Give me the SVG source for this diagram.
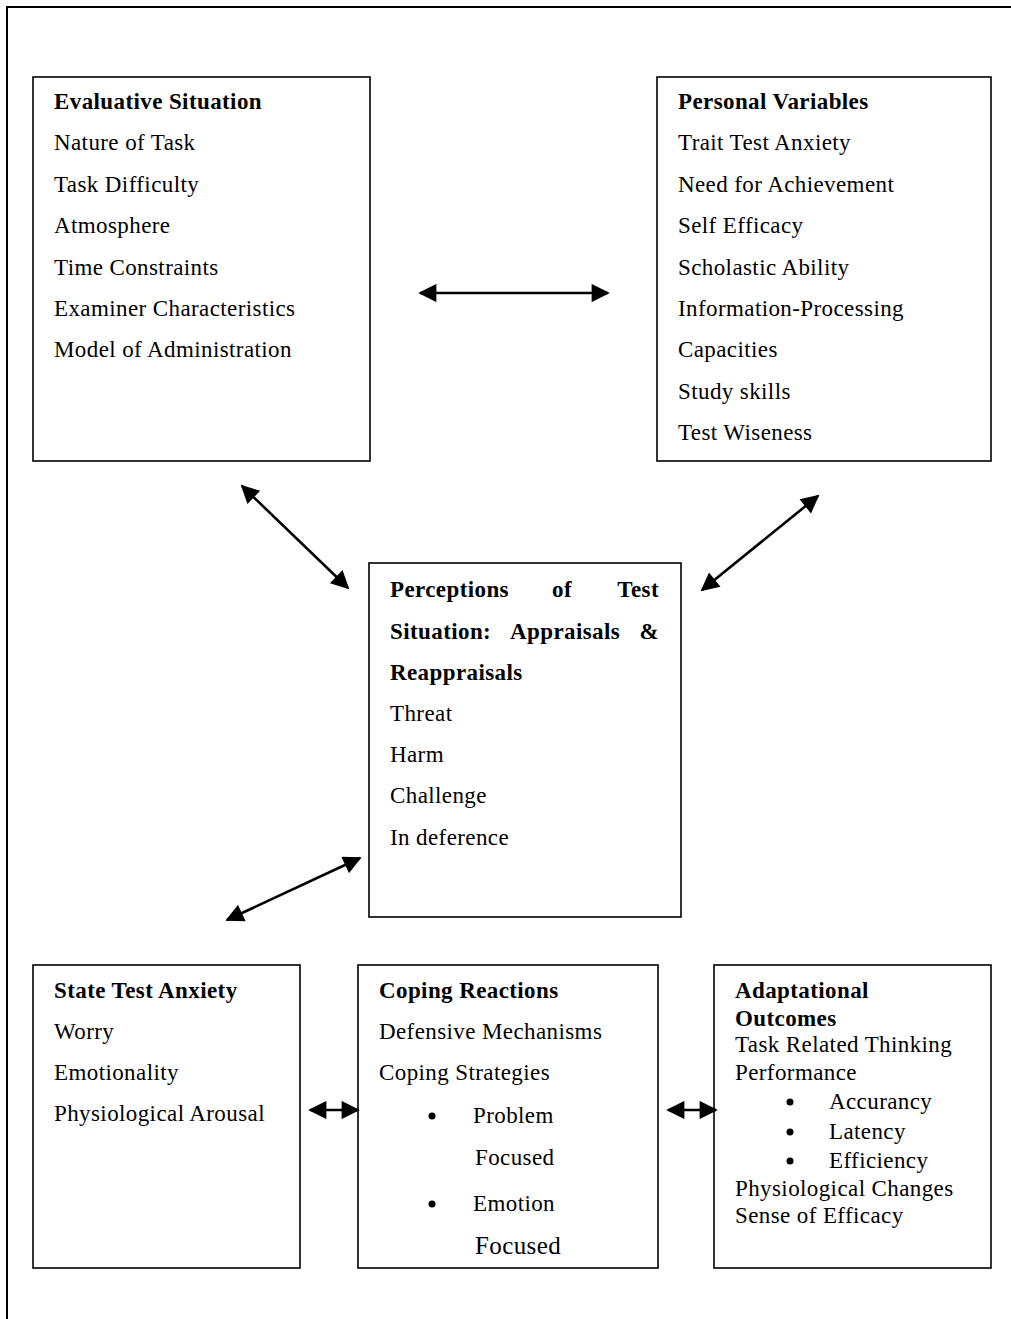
<svg xmlns="http://www.w3.org/2000/svg" width="1011" height="1319" viewBox="0 0 1011 1319">
<style>
.box{fill:#fff;stroke:#000;stroke-width:1.6}
text{font-family:"Liberation Serif","Times New Roman",serif;font-size:23px;letter-spacing:0.4px;fill:#000}
.b{font-weight:bold}
.c{stroke:#000;stroke-width:2.6;fill:none;marker-start:url(#ah);marker-end:url(#ah)}
</style>
<defs>
<marker id="ah" viewBox="0 0 10 10" refX="9" refY="5" markerWidth="8" markerHeight="7" markerUnits="strokeWidth" orient="auto-start-reverse">
<path d="M0,0 L10,5 L0,10 z" fill="#000"/>
</marker>
</defs>
<rect x="7" y="7" width="1020" height="1330" fill="none" stroke="#000" stroke-width="2"/>
<g id="evaluative">
<rect class="box" x="33" y="77" width="337" height="384"/>
<text class="b" x="54" y="109">Evaluative Situation</text>
<text x="54" y="150">Nature of Task</text>
<text x="54" y="192">Task Difficulty</text>
<text x="54" y="233">Atmosphere</text>
<text x="54" y="275">Time Constraints</text>
<text x="54" y="316">Examiner Characteristics</text>
<text x="54" y="357">Model of Administration</text>
</g>
<g id="personal">
<rect class="box" x="657" y="77" width="334" height="384"/>
<text class="b" x="678" y="109">Personal Variables</text>
<text x="678" y="150">Trait Test Anxiety</text>
<text x="678" y="192">Need for Achievement</text>
<text x="678" y="233">Self Efficacy</text>
<text x="678" y="275">Scholastic Ability</text>
<text x="678" y="316">Information-Processing</text>
<text x="678" y="357">Capacities</text>
<text x="678" y="399">Study skills</text>
<text x="678" y="440">Test Wiseness</text>
</g>
<g id="perceptions">
<rect class="box" x="369" y="563" width="312" height="354"/>
<text class="b" x="390" y="597">Perceptions</text>
<text class="b" x="552" y="597">of</text>
<text class="b" x="659" y="597" text-anchor="end">Test</text>
<text class="b" x="390" y="639">Situation:</text>
<text class="b" x="510" y="639">Appraisals</text>
<text class="b" x="659" y="639" text-anchor="end">&amp;</text>
<text class="b" x="390" y="680">Reappraisals</text>
<text x="390" y="721">Threat</text>
<text x="390" y="762">Harm</text>
<text x="390" y="803">Challenge</text>
<text x="390" y="845">In deference</text>
</g>
<g id="state">
<rect class="box" x="33" y="965" width="267" height="303"/>
<text class="b" x="54" y="998">State Test Anxiety</text>
<text x="54" y="1039">Worry</text>
<text x="54" y="1080">Emotionality</text>
<text x="54" y="1121">Physiological Arousal</text>
</g>
<g id="coping">
<rect class="box" x="358" y="965" width="300" height="303"/>
<text class="b" x="379" y="998">Coping Reactions</text>
<text x="379" y="1039">Defensive Mechanisms</text>
<text x="379" y="1080">Coping Strategies</text>
<circle cx="432" cy="1116" r="3.5"/>
<text x="473" y="1123">Problem</text>
<text x="475" y="1165">Focused</text>
<circle cx="432" cy="1204" r="3.5"/>
<text x="473" y="1211">Emotion</text>
<text x="475" y="1254" style="font-size:25px">Focused</text>
</g>
<g id="adaptational">
<rect class="box" x="714" y="965" width="277" height="303"/>
<text class="b" x="735" y="998">Adaptational</text>
<text class="b" x="735" y="1026">Outcomes</text>
<text x="735" y="1052">Task Related Thinking</text>
<text x="735" y="1080">Performance</text>
<circle cx="790" cy="1102" r="3.5"/>
<text x="829" y="1109">Accurancy</text>
<circle cx="790" cy="1132" r="3.5"/>
<text x="829" y="1139">Latency</text>
<circle cx="790" cy="1161" r="3.5"/>
<text x="829" y="1168">Efficiency</text>
<text x="735" y="1196">Physiological Changes</text>
<text x="735" y="1223">Sense of Efficacy</text>
</g>
<g id="connectors">
<line class="c" x1="420" y1="293" x2="608" y2="293"/>
<line class="c" x1="242" y1="486" x2="348" y2="588"/>
<line class="c" x1="818" y1="496" x2="702" y2="590"/>
<line class="c" x1="360" y1="858" x2="227" y2="920"/>
<line class="c" x1="310" y1="1110" x2="358" y2="1110"/>
<line class="c" x1="668" y1="1110" x2="716" y2="1110"/>
</g>
</svg>
